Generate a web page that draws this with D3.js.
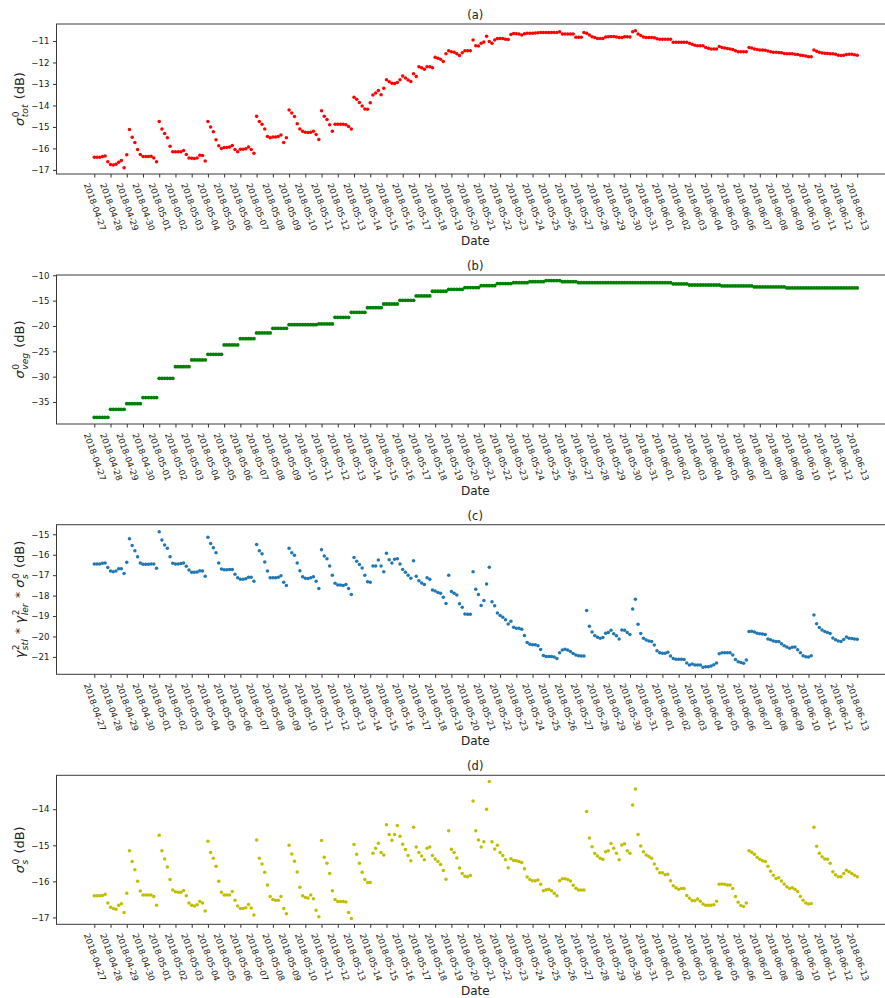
<!DOCTYPE html>
<html>
<head>
<meta charset="utf-8">
<script src="https://cdn.jsdelivr.net/npm/d3@7"></script>
<style>
  body { margin: 0; background: #fff; }
  svg { display: block; }
  text { font-family: "DejaVu Sans", sans-serif; fill: #222; }
</style>
</head>
<body>
<svg id="chart"></svg>
<script>
// samples every 4 h from 2018-04-27 00:00 to 2018-06-13 00:00
const start = new Date(Date.UTC(2018, 3, 27));
const end = new Date(Date.UTC(2018, 5, 13));
const times = d3.range(283).map(i => d3.utcHour.offset(start, 4 * i));
const dayTicks = d3.utcDay.range(start, d3.utcDay.offset(end, 1));

// (a) total backscatter, dB (one row per day)
const totDb = [
  -16.41,-16.41,-16.41,-16.38,-16.35,-16.62,
  -16.75,-16.77,-16.74,-16.64,-16.56,-16.9,
  -16.3,-15.12,-15.48,-15.72,-16.05,-16.28,
  -16.38,-16.38,-16.38,-16.36,-16.45,-16.62,
  -14.75,-15.1,-15.3,-15.5,-15.9,-16.15,
  -16.15,-16.15,-16.15,-16.1,-16.28,-16.45,
  -16.46,-16.47,-16.45,-16.32,-16.33,-16.58,
  -14.75,-15.0,-15.22,-15.6,-15.88,-16.0,
  -15.96,-15.96,-15.93,-15.86,-16.05,-16.15,
  -16.04,-16.04,-16.02,-15.93,-16.05,-16.22,
  -14.5,-14.75,-14.88,-15.1,-15.45,-15.5,
  -15.47,-15.47,-15.44,-15.38,-15.72,-15.5,
  -14.21,-14.35,-14.52,-14.85,-15.1,-15.2,
  -15.25,-15.26,-15.25,-15.2,-15.35,-15.58,
  -14.25,-14.5,-14.65,-14.9,-15.2,-14.88,
  -14.87,-14.87,-14.87,-14.9,-14.98,-15.1,
  -13.62,-13.71,-13.86,-14.02,-14.16,-14.18,
  -13.88,-13.51,-13.42,-13.31,-13.5,-13.2,
  -12.8,-12.9,-12.97,-12.98,-12.93,-12.8,
  -12.63,-12.72,-12.82,-12.89,-12.52,-12.65,
  -12.2,-12.25,-12.32,-12.2,-12.2,-12.25,
  -11.76,-11.8,-11.85,-11.95,-11.6,-11.45,
  -11.5,-11.52,-11.6,-11.67,-11.55,-11.45,
  -11.45,-11.45,-10.95,-11.22,-11.23,-11.1,
  -11.05,-10.78,-11.03,-11.1,-10.95,-10.88,
  -10.88,-10.88,-10.92,-10.93,-10.7,-10.65,
  -10.66,-10.68,-10.72,-10.66,-10.64,-10.64,
  -10.64,-10.63,-10.62,-10.61,-10.61,-10.6,
  -10.6,-10.6,-10.6,-10.6,-10.57,-10.68,
  -10.68,-10.68,-10.68,-10.68,-10.83,-10.83,
  -10.83,-10.6,-10.64,-10.72,-10.8,-10.84,
  -10.88,-10.88,-10.88,-10.82,-10.8,-10.79,
  -10.79,-10.81,-10.84,-10.84,-10.8,-10.8,
  -10.81,-10.57,-10.52,-10.68,-10.75,-10.82,
  -10.84,-10.84,-10.84,-10.85,-10.9,-10.92,
  -10.92,-10.92,-10.92,-10.92,-11.06,-11.06,
  -11.06,-11.06,-11.06,-11.06,-11.1,-11.15,
  -11.2,-11.22,-11.22,-11.22,-11.3,-11.34,
  -11.37,-11.37,-11.37,-11.26,-11.3,-11.33,
  -11.35,-11.37,-11.4,-11.45,-11.5,-11.5,
  -11.5,-11.5,-11.3,-11.33,-11.37,-11.4,
  -11.42,-11.42,-11.43,-11.47,-11.5,-11.52,
  -11.52,-11.54,-11.55,-11.58,-11.6,-11.6,
  -11.6,-11.62,-11.63,-11.66,-11.68,-11.7,
  -11.73,-11.73,-11.42,-11.48,-11.52,-11.56,
  -11.57,-11.58,-11.6,-11.6,-11.62,-11.66,
  -11.68,-11.66,-11.63,-11.62,-11.62,-11.64,
  -11.66
];

// (b) vegetation backscatter, dB (steps once per day)
const vegDb = [
  -38.03,-38.03,-38.03,-38.03,-38.03,-38.03,
  -36.45,-36.45,-36.45,-36.45,-36.45,-36.45,
  -35.33,-35.33,-35.33,-35.33,-35.33,-35.33,
  -34.14,-34.14,-34.14,-34.14,-34.14,-34.14,
  -30.33,-30.33,-30.33,-30.33,-30.33,-30.33,
  -28.03,-28.03,-28.03,-28.03,-28.03,-28.03,
  -26.71,-26.71,-26.71,-26.71,-26.71,-26.71,
  -25.59,-25.59,-25.59,-25.59,-25.59,-25.59,
  -23.75,-23.75,-23.75,-23.75,-23.75,-23.75,
  -22.5,-22.5,-22.5,-22.5,-22.5,-22.5,
  -21.38,-21.38,-21.38,-21.38,-21.38,-21.38,
  -20.46,-20.46,-20.46,-20.46,-20.46,-20.46,
  -19.74,-19.74,-19.74,-19.74,-19.74,-19.74,
  -19.74,-19.74,-19.74,-19.74,-19.74,
  -19.6,-19.6,-19.6,-19.6,-19.6,-19.6,
  -18.29,-18.29,-18.29,-18.29,-18.29,-18.29,
  -17.3,-17.3,-17.3,-17.3,-17.3,-17.3,
  -16.38,-16.38,-16.38,-16.38,-16.38,-16.38,
  -15.66,-15.66,-15.66,-15.66,-15.66,-15.66,
  -14.93,-14.93,-14.93,-14.93,-14.93,-14.93,
  -14.08,-14.08,-14.08,-14.08,-14.08,-14.08,
  -13.15,-13.15,-13.15,-13.15,-13.15,-13.15,
  -12.76,-12.76,-12.76,-12.76,-12.76,-12.76,
  -12.43,-12.43,-12.43,-12.43,-12.43,-12.43,
  -12.04,-12.04,-12.04,-12.04,-12.04,-12.04,
  -11.64,-11.64,-11.64,-11.64,-11.64,-11.64,
  -11.45,-11.45,-11.45,-11.45,-11.45,-11.45,
  -11.25,-11.25,-11.25,-11.25,-11.25,-11.25,
  -11.05,-11.05,-11.05,-11.05,-11.05,-11.05,
  -11.25,-11.25,-11.25,-11.25,-11.25,-11.25,
  -11.45,-11.45,-11.45,-11.45,-11.45,-11.45,
  -11.45,-11.45,-11.45,-11.45,-11.45,-11.45,
  -11.45,-11.45,-11.45,-11.45,-11.45,-11.45,
  -11.45,-11.45,-11.45,-11.45,-11.45,-11.45,
  -11.45,-11.45,-11.45,-11.45,-11.45,-11.45,
  -11.45,-11.45,-11.45,-11.45,-11.45,
  -11.71,-11.71,-11.71,-11.71,-11.71,-11.71,
  -11.91,-11.91,-11.91,-11.91,-11.91,-11.91,
  -11.91,-11.91,-11.91,-11.91,-11.91,-11.91,
  -12.1,-12.1,-12.1,-12.1,-12.1,-12.1,
  -12.1,-12.1,-12.1,-12.1,-12.1,-12.1,
  -12.3,-12.3,-12.3,-12.3,-12.3,-12.3,
  -12.3,-12.3,-12.3,-12.3,-12.3,-12.3,
  -12.5,-12.5,-12.5,-12.5,-12.5,-12.5,
  -12.5,-12.5,-12.5,-12.5,-12.5,-12.5,
  -12.5,-12.5,-12.5,-12.5,-12.5,-12.5,
  -12.5,-12.5,-12.5,-12.5,-12.5,-12.5,-12.5,-12.5,-12.5
];

// (c) attenuated soil term, dB
const attDb = [
  -16.45,-16.45,-16.45,-16.42,-16.4,-16.62,
  -16.8,-16.83,-16.8,-16.68,-16.68,-16.92,
  -16.37,-15.22,-15.55,-15.8,-16.1,-16.4,
  -16.47,-16.47,-16.47,-16.45,-16.45,-16.66,
  -14.87,-15.28,-15.52,-15.68,-16.1,-16.42,
  -16.45,-16.45,-16.43,-16.4,-16.56,-16.75,
  -16.86,-16.86,-16.85,-16.78,-16.8,-17.05,
  -15.15,-15.45,-15.66,-15.9,-16.4,-16.7,
  -16.74,-16.74,-16.72,-16.72,-16.95,-17.12,
  -17.2,-17.2,-17.18,-17.1,-17.1,-17.3,
  -15.5,-15.8,-15.95,-16.35,-16.8,-17.12,
  -17.12,-17.12,-17.1,-17.03,-17.35,-17.5,
  -15.68,-15.9,-16.03,-16.4,-16.78,-17.08,
  -17.15,-17.16,-17.13,-17.08,-17.3,-17.65,
  -15.75,-16.06,-16.2,-16.55,-17.0,-17.4,
  -17.48,-17.48,-17.5,-17.45,-17.65,-17.95,
  -16.14,-16.32,-16.48,-16.65,-17.0,-17.32,
  -17.35,-16.55,-16.55,-16.26,-16.55,-16.83,
  -15.93,-16.25,-16.4,-16.22,-16.2,-16.45,
  -16.72,-16.86,-17.0,-17.15,-16.3,-17.05,
  -17.27,-17.38,-17.45,-17.12,-17.2,-17.72,
  -17.77,-17.85,-17.89,-18.08,-18.38,-17.0,
  -17.8,-17.89,-17.97,-18.4,-18.57,-18.9,
  -18.91,-18.91,-16.83,-17.69,-17.95,-18.48,
  -18.24,-17.43,-16.61,-18.3,-18.5,-18.85,
  -18.97,-19.06,-19.18,-19.39,-19.25,-19.55,
  -19.6,-19.6,-19.65,-19.95,-20.3,-20.38,
  -20.41,-20.41,-20.45,-20.64,-20.93,-20.98,
  -20.98,-20.98,-21.0,-21.08,-20.79,-20.66,
  -20.63,-20.66,-20.74,-20.83,-20.9,-20.94,
  -20.95,-20.95,-18.73,-19.5,-19.78,-19.95,
  -20.04,-20.09,-20.05,-19.84,-19.8,-19.7,
  -19.86,-19.96,-20.12,-19.68,-19.7,-19.81,
  -19.9,-18.65,-18.18,-19.4,-19.85,-20.08,
  -20.17,-20.22,-20.24,-20.42,-20.7,-20.79,
  -20.82,-20.82,-20.77,-20.96,-21.08,-21.11,
  -21.11,-21.11,-21.12,-21.3,-21.39,-21.34,
  -21.4,-21.39,-21.39,-21.51,-21.48,-21.48,
  -21.44,-21.38,-21.3,-20.85,-20.79,-20.79,
  -20.79,-20.79,-20.9,-21.12,-21.23,-21.27,
  -21.31,-21.15,-19.75,-19.74,-19.78,-19.84,
  -19.86,-19.88,-19.9,-20.12,-20.16,-20.22,
  -20.25,-20.24,-20.36,-20.45,-20.52,-20.57,
  -20.53,-20.52,-20.65,-20.8,-20.94,-20.99,
  -21.0,-20.94,-18.95,-19.38,-19.56,-19.68,
  -19.76,-19.8,-19.85,-20.07,-20.16,-20.22,
  -20.25,-20.15,-20.03,-20.08,-20.1,-20.12,
  -20.14
];

// (d) soil backscatter, dB
const soilDb = [
  -16.4,-16.4,-16.4,-16.39,-16.36,-16.6,
  -16.72,-16.75,-16.77,-16.66,-16.62,-16.86,
  -16.33,-15.15,-15.45,-15.68,-16.0,-16.27,
  -16.38,-16.38,-16.38,-16.38,-16.42,-16.66,
  -14.72,-15.15,-15.38,-15.6,-15.95,-16.24,
  -16.29,-16.3,-16.3,-16.25,-16.4,-16.6,
  -16.66,-16.68,-16.65,-16.56,-16.6,-16.82,
  -14.89,-15.2,-15.36,-15.58,-16.0,-16.3,
  -16.38,-16.38,-16.38,-16.28,-16.52,-16.68,
  -16.75,-16.75,-16.73,-16.64,-16.74,-16.93,
  -14.85,-15.36,-15.52,-15.75,-16.1,-16.42,
  -16.5,-16.52,-16.52,-16.42,-16.75,-16.9,
  -15.0,-15.24,-15.44,-15.74,-16.16,-16.4,
  -16.45,-16.46,-16.38,-16.48,-16.8,-16.98,
  -14.87,-15.33,-15.5,-15.78,-16.26,-16.5,
  -16.56,-16.56,-16.56,-16.57,-16.86,-17.03,
  -14.98,-15.25,-15.5,-15.75,-15.95,-16.03,
  -16.03,-15.22,-15.08,-14.94,-15.2,-15.27,
  -14.43,-14.7,-14.86,-14.7,-14.45,-14.75,
  -14.97,-15.12,-15.28,-15.43,-14.5,-15.05,
  -15.2,-15.3,-15.4,-15.08,-15.05,-15.28,
  -15.38,-15.45,-15.53,-15.7,-15.94,-14.6,
  -15.11,-15.2,-15.35,-15.63,-15.78,-15.86,
  -15.87,-15.84,-13.77,-14.6,-14.85,-15.05,
  -14.9,-14.0,-13.23,-14.9,-15.1,-15.0,
  -15.2,-15.28,-15.4,-15.62,-15.37,-15.42,
  -15.43,-15.45,-15.48,-15.65,-15.88,-15.95,
  -15.98,-15.98,-15.96,-16.08,-16.26,-16.23,
  -16.22,-16.26,-16.33,-16.4,-15.98,-15.93,
  -15.93,-15.95,-15.99,-16.11,-16.19,-16.24,
  -16.24,-16.24,-14.06,-14.8,-15.04,-15.23,
  -15.3,-15.36,-15.39,-15.18,-15.15,-14.95,
  -15.08,-15.22,-15.4,-14.99,-14.96,-15.15,
  -15.22,-13.88,-13.44,-14.7,-15.02,-15.18,
  -15.27,-15.31,-15.36,-15.52,-15.65,-15.76,
  -15.76,-15.82,-15.8,-15.98,-16.12,-16.18,
  -16.22,-16.2,-16.2,-16.39,-16.47,-16.53,
  -16.54,-16.49,-16.55,-16.63,-16.66,-16.66,
  -16.66,-16.65,-16.55,-16.08,-16.07,-16.08,
  -16.1,-16.1,-16.2,-16.42,-16.58,-16.67,
  -16.7,-16.6,-15.15,-15.19,-15.25,-15.33,
  -15.39,-15.43,-15.45,-15.58,-15.72,-15.83,
  -15.92,-15.9,-15.99,-16.07,-16.15,-16.2,
  -16.18,-16.22,-16.28,-16.42,-16.52,-16.6,
  -16.63,-16.61,-14.5,-15.03,-15.22,-15.32,
  -15.38,-15.39,-15.5,-15.73,-15.82,-15.87,
  -15.87,-15.78,-15.69,-15.73,-15.78,-15.83,
  -15.87
];

const titles = ["(a)", "(b)", "(c)", "(d)"];
const colors = ["#ff0000", "#008000", "#1f77b4", "#bfbf00"];
const yTicks = [
  [-17, -16, -15, -14, -13, -12, -11],
  [-35, -30, -25, -20, -15, -10],
  [-21, -20, -19, -18, -17, -16, -15],
  [-17, -16, -15, -14]
];
const yDomains = [[-17.19, -10.21], [-39.35, -9.94], [-21.85, -14.53], [-17.19, -13.06]];
const yLabels = [
  [{t: "σ", it: 1}, {sup: "0", sub: "tot"}, {t: " (dB)"}],
  [{t: "σ", it: 1}, {sup: "0", sub: "veg"}, {t: " (dB)"}],
  [{t: "γ", it: 1}, {sup: "2", sub: "stl"}, {t: " * "}, {t: "γ", it: 1}, {sup: "2", sub: "ler"},
   {t: " * "}, {t: "σ", it: 1}, {sup: "0", sub: "s"}, {t: " (dB)"}],
  [{t: "σ", it: 1}, {sup: "0", sub: "s"}, {t: " (dB)"}]
];
const series = [totDb, vegDb, attDb, soilDb];

// layout
const width = 885;
const height = 998;
const marginLeft = 56.5;
const axRight = 894;
const panelTops = [24, 275, 524.7, 775.3];
const panelBottoms = [174, 424, 674.3, 924.3];
const tickFont = 8.6;

const svg = d3.select("#chart").attr("width", width).attr("height", height);

const x = d3.scaleUtc([start, end], [94.3, 857.2]);

function mathLabel(parent, pieces, fs) {
  const g = parent.append("g");
  let cx = 0;
  for (const p of pieces) {
    if (p.t) {
      const t = g.append("text").attr("x", cx).attr("font-size", fs)
        .attr("font-style", p.it ? "italic" : null).attr("xml:space", "preserve").text(p.t);
      cx += t.node().getComputedTextLength();
    } else {
      const s = fs * 0.7;
      const a = g.append("text").attr("x", cx + 0.5).attr("y", -fs * 0.42).attr("font-size", s).text(p.sup);
      const b = g.append("text").attr("x", cx + 0.5).attr("y", fs * 0.3).attr("font-size", s)
        .attr("font-style", "italic").text(p.sub);
      cx += Math.max(a.node().getComputedTextLength(), b.node().getComputedTextLength()) + 1.5;
    }
  }
  g.attr("transform", `translate(${-cx / 2},0)`);
}

series.forEach((values, k) => {
  const top = panelTops[k], bottom = panelBottoms[k];
  const y = d3.scaleLinear(yDomains[k], [bottom, top]);
  const g = svg.append("g");

  // points
  g.append("g")
    .selectAll("circle")
    .data(d3.zip(times, values))
    .join("circle")
    .attr("cx", d => x(d[0]))
    .attr("cy", d => y(d[1]))
    .attr("r", k === 1 ? 1.9 : 1.75)
    .attr("fill", colors[k]);

  // x axis, labels turned 70 degrees and centred under each tick
  const xAxis = g.append("g")
    .attr("transform", `translate(0,${bottom})`)
    .call(d3.axisBottom(x).tickValues(dayTicks).tickFormat(d3.utcFormat("%Y-%m-%d"))
      .tickSize(3.5).tickSizeOuter(0));
  xAxis.select(".domain").remove();
  xAxis.selectAll(".tick line").attr("stroke", "#333");
  const labels = xAxis.selectAll(".tick text").attr("font-size", tickFont).attr("fill", "#222");
  const L = labels.node().getComputedTextLength();
  const ang = 70 * Math.PI / 180;
  const H = L * Math.sin(ang) + tickFont * Math.cos(ang);
  labels.attr("y", null).attr("dy", "0.32em").attr("text-anchor", "middle")
    .attr("transform", `translate(0,${3.5 + 4.5 + H / 2}) rotate(70)`);

  // y axis
  const yAxis = g.append("g")
    .attr("transform", `translate(${marginLeft},0)`)
    .call(d3.axisLeft(y).tickValues(yTicks[k]).tickFormat(d3.format("d"))
      .tickSize(3.5).tickPadding(3.5).tickSizeOuter(0));
  yAxis.select(".domain").remove();
  yAxis.selectAll(".tick line").attr("stroke", "#333");
  yAxis.selectAll(".tick text").attr("font-size", tickFont).attr("fill", "#222");

  // frame
  g.append("rect")
    .attr("x", marginLeft).attr("y", top)
    .attr("width", axRight - marginLeft).attr("height", bottom - top)
    .attr("fill", "none").attr("stroke", "#3a3a3a").attr("stroke-width", 1);

  // title and axis labels
  const cx = (marginLeft + axRight) / 2;
  g.append("text").attr("x", cx).attr("y", top - 5).attr("text-anchor", "middle")
    .attr("font-size", 11.5).text(titles[k]);
  g.append("text").attr("x", cx).attr("y", bottom + 71).attr("text-anchor", "middle")
    .attr("font-size", 12).text("Date");
  const yl = g.append("g").attr("transform", `translate(24,${(top + bottom) / 2}) rotate(-90)`);
  mathLabel(yl, yLabels[k], 13);
});
</script>
</body>
</html>
